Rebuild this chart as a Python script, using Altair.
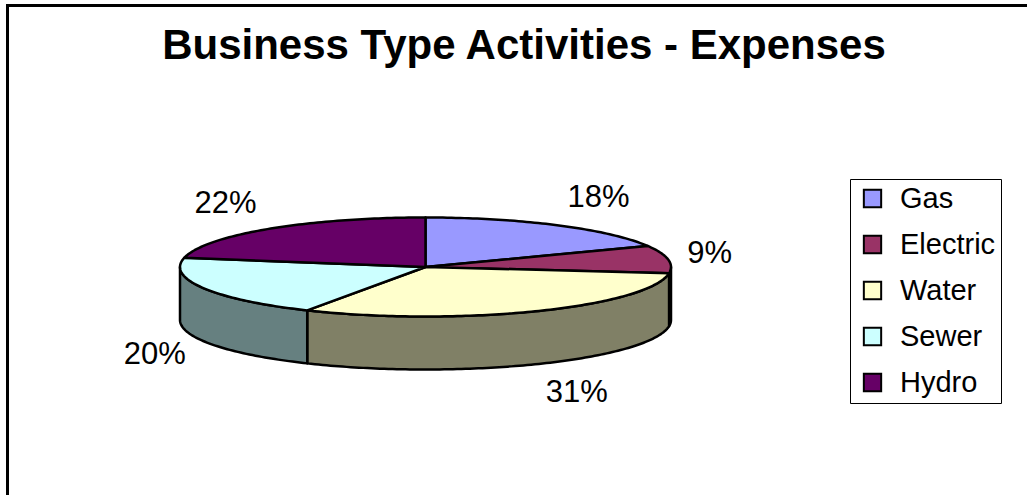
import altair as alt
import numpy as np
import pandas as pd

# ---------------- data ----------------
TITLE = "Business Type Activities - Expenses"
categories = ["Gas", "Electric", "Water", "Sewer", "Hydro"]
values = [18, 9, 31, 20, 22]
top_colors = ["#9999FF", "#993366", "#FFFFCC", "#CCFFFF", "#660066"]
side_colors = ["#4D4D80", "#4D1A33", "#808066", "#668080", "#330033"]

# ---------------- geometry (pie units, radius = 1) ----------------
W, H = 1027, 495
CX, CY, R = 425.5, 267.0, 245.5       # pixel centre / radius of the pie top
TILT = 49.5 / R                        # vertical squash of the ellipse
DEPTH = 53.0 / R                       # thickness of the 3-D pie
LABEL_RX = 265.0 / R
LABEL_RY = 82.0 / R
FONT = "Liberation Sans, Arial, Helvetica, sans-serif"

total = float(sum(values))
fracs = [v / total for v in values]
starts = np.concatenate([[0.0], np.cumsum(fracs)[:-1]]) * 360.0
ends = np.cumsum(fracs) * 360.0


def arc(a0, a1):
    n = max(2, int(abs(a1 - a0)) + 1)
    t = np.radians(np.linspace(a0, a1, n))
    return np.sin(t), TILT * np.cos(t)


top_rows, side_rows, label_rows = [], [], []
for name, frac, s, e in zip(categories, fracs, starts, ends):
    xs, ys = arc(s, e)
    pts = [(0.0, 0.0)] + list(zip(xs, ys))
    for i, (px, py) in enumerate(pts):
        top_rows.append({"slice": name, "order": i, "x": px, "y": py})
    s2, e2 = max(s, 90.0), min(e, 270.0)
    if e2 > s2:
        xs, ys = arc(s2, e2)
        pts = list(zip(xs, ys)) + list(zip(xs[::-1], ys[::-1] - DEPTH))
        for i, (px, py) in enumerate(pts):
            side_rows.append({"key": name + " side", "order": i, "x": px, "y": py})
    mid = np.radians((s + e) / 2.0)
    lx = LABEL_RX * np.sin(mid)
    ly = LABEL_RY * np.cos(mid) - (DEPTH if np.cos(mid) < 0 else 0.0)
    label_rows.append({"slice": name, "x": lx, "y": ly,
                       "side": "right" if np.sin(mid) >= 0 else "left",
                       "label": f"{frac * 100:.0f}%"})

top_df = pd.DataFrame(top_rows)
side_df = pd.DataFrame(side_rows)
label_df = pd.DataFrame(label_rows)

side_keys = [c + " side" for c in categories]

xscale = alt.Scale(domain=[-CX / R, (W - CX) / R], nice=False, zero=False)
yscale = alt.Scale(domain=[(CY - H) / R, CY / R], nice=False, zero=False)
X = alt.X("x:Q", scale=xscale, axis=None)
Y = alt.Y("y:Q", scale=yscale, axis=None)

border = alt.Chart(pd.DataFrame({"k": [0]})).mark_rect(
    fillOpacity=0, stroke="black", strokeWidth=3
).encode(x=alt.value(7.5), x2=alt.value(1300), y=alt.value(5.5), y2=alt.value(800))

sides = alt.Chart(side_df).mark_line(
    interpolate="linear-closed", stroke="black", strokeWidth=2.5, strokeJoin="round"
).encode(
    x=X, y=Y,
    fill=alt.Fill("key:N", scale=alt.Scale(domain=side_keys, range=side_colors), legend=None),
    detail="key:N",
    order="order:Q",
)

tops = alt.Chart(top_df).mark_line(
    interpolate="linear-closed", stroke="black", strokeWidth=2.5, strokeJoin="round"
).encode(
    x=X, y=Y,
    fill=alt.Fill(
        "slice:N",
        scale=alt.Scale(domain=categories, range=top_colors),
        sort=categories,
        legend=alt.Legend(
            title=None, orient="none", legendX=850, legendY=179,
            symbolType="square", symbolSize=300, symbolStrokeColor="black",
            symbolStrokeWidth=2, symbolOpacity=1,
            labelFont=FONT, labelFontSize=29, labelColor="black", labelOffset=13,
            rowPadding=16, padding=5, strokeColor="black",
            fillColor="white", symbolOffset=3,
        ),
    ),
    detail="slice:N",
    order="order:Q",
)

labels_r = alt.Chart(label_df).transform_filter(alt.datum.side == "right").mark_text(
    align="left", baseline="middle", font=FONT, fontSize=31, color="black"
).encode(x=X, y=Y, text="label:N")

labels_l = alt.Chart(label_df).transform_filter(alt.datum.side == "left").mark_text(
    align="right", baseline="middle", font=FONT, fontSize=31, color="black"
).encode(x=X, y=Y, text="label:N")

title = alt.Chart(pd.DataFrame({"t": [TITLE]})).mark_text(
    align="center", baseline="alphabetic", font=FONT, fontSize=42, fontWeight="bold",
    color="black"
).encode(text="t:N", x=alt.value(524), y=alt.value(59))

chart = alt.layer(border, sides, tops, labels_r, labels_l, title).resolve_scale(
    fill="independent"
).properties(
    width=W, height=H, padding=0, autosize="none", background="white"
).configure_view(stroke=None)

chart.save("out.html", embed_options={"renderer": "svg", "actions": False})
